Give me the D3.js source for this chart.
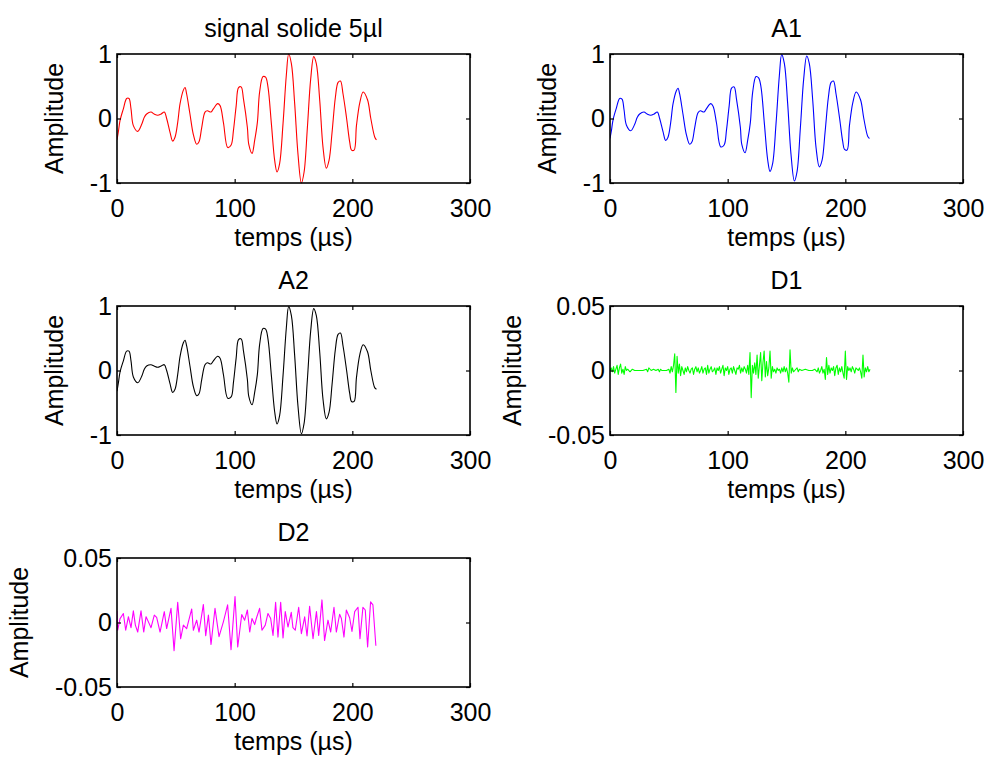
<!DOCTYPE html>
<html>
<head>
<meta charset="utf-8">
<script src="https://cdn.jsdelivr.net/npm/d3@7"></script>
<style>
  html, body { margin: 0; padding: 0; background: #fff; }
  svg { display: block; font-family: "Liberation Sans", Arial, sans-serif; }
</style>
</head>
<body>
<svg id="chart" width="987" height="758"></svg>
<script>
// ---- data -------------------------------------------------------------
const timeTicks = [0, 100, 200, 300];
const approxTicks = [-1, 0, 1];
const detailTicks = [-0.05, 0, 0.05];
const panelTitles = ["signal solide 5µl", "A1", "A2", "D1", "D2"];
const xLabel = "temps (µs)";
const yLabel = "Amplitude";

// time axis (µs) shared by the raw signal and its approximations
const signalTime = [
  0, 1.2, 2.6, 5.4, 8.2, 10.2, 11.9, 13.9, 17.6, 21,
  23.2, 25.2, 28.9, 31.5, 34.6, 37.5, 40.2, 42.2, 45, 47.3,
  49.3, 51.6, 53.6, 56.4, 57.8, 59.2, 62, 64.9, 67.7, 69.7,
  72, 74.8, 76.8, 79.9, 81.9, 85.6, 87.6, 90.5, 94.1, 97,
  99, 101.3, 103.3, 105.5, 107.5, 110.8, 112, 114.8, 117, 119.3,
  121.2, 124.1, 126.3, 128.3, 131.2, 134, 136, 138.2, 141.1, 143.9,
  145.9, 148.2, 151, 153.8, 156.7, 159, 161.8, 164.6, 167.2, 169.4,
  172.3, 175.1, 177.9, 180.2, 182.8, 185.6, 187.9, 189.9, 192.1, 195,
  197.8, 199.3, 201.5, 203.5, 206.4, 209.2, 212.9, 215.7, 219.1, 220.5
];

const signalValues = [
  -0.33, -0.20, -0.03, 0.15, 0.31, 0.31, 0.15, -0.11, -0.20, -0.09,
  0.02, 0.07, 0.10, 0.07, 0.05, 0.07, 0.10, 0.00, -0.21, -0.35,
  -0.29, -0.06, 0.23, 0.44, 0.48, 0.38, 0.07, -0.25, -0.40, -0.36,
  -0.14, 0.10, 0.12, 0.10, 0.15, 0.23, 0.20, -0.07, -0.45, -0.41,
  -0.18, 0.20, 0.48, 0.49, 0.30, -0.14, -0.40, -0.54, -0.34, -0.06,
  0.41, 0.65, 0.64, 0.49, -0.08, -0.65, -0.83, -0.70, -0.08, 0.67,
  1.00, 0.85, 0.23, -0.55, -1.00, -0.83, -0.14, 0.61, 0.96, 0.85,
  0.28, -0.45, -0.77, -0.65, -0.21, 0.33, 0.56, 0.58, 0.38, 0.02,
  -0.37, -0.49, -0.49, -0.11, 0.25, 0.41, 0.29, 0.00, -0.29, -0.33
];

const a1Values = [
  -0.31, -0.19, -0.02, 0.16, 0.31, 0.30, 0.14, -0.10, -0.19, -0.09,
  0.02, 0.07, 0.10, 0.07, 0.05, 0.07, 0.10, 0.00, -0.20, -0.34,
  -0.29, -0.06, 0.23, 0.43, 0.47, 0.38, 0.07, -0.25, -0.40, -0.36,
  -0.14, 0.09, 0.12, 0.10, 0.15, 0.23, 0.19, -0.07, -0.44, -0.41,
  -0.18, 0.20, 0.47, 0.49, 0.30, -0.14, -0.40, -0.53, -0.34, -0.06,
  0.40, 0.65, 0.63, 0.49, -0.08, -0.64, -0.82, -0.70, -0.08, 0.66,
  0.99, 0.85, 0.23, -0.55, -0.97, -0.82, -0.14, 0.61, 0.97, 0.85,
  0.28, -0.45, -0.75, -0.65, -0.21, 0.33, 0.56, 0.58, 0.38, 0.02,
  -0.36, -0.48, -0.49, -0.11, 0.25, 0.41, 0.29, 0.00, -0.28, -0.31
];

const a2Values = [
  -0.32, -0.19, -0.02, 0.15, 0.30, 0.30, 0.15, -0.10, -0.19, -0.09,
  0.02, 0.07, 0.09, 0.07, 0.05, 0.07, 0.09, 0.00, -0.20, -0.34,
  -0.29, -0.06, 0.22, 0.43, 0.47, 0.38, 0.07, -0.25, -0.39, -0.36,
  -0.14, 0.09, 0.12, 0.10, 0.15, 0.22, 0.19, -0.07, -0.43, -0.41,
  -0.18, 0.20, 0.48, 0.49, 0.30, -0.14, -0.40, -0.53, -0.34, -0.06,
  0.40, 0.65, 0.64, 0.49, -0.08, -0.64, -0.83, -0.70, -0.08, 0.66,
  0.99, 0.85, 0.23, -0.55, -0.98, -0.82, -0.14, 0.61, 0.96, 0.85,
  0.28, -0.45, -0.75, -0.65, -0.21, 0.33, 0.56, 0.58, 0.38, 0.02,
  -0.36, -0.48, -0.48, -0.11, 0.25, 0.40, 0.29, 0.00, -0.27, -0.29
];

// level-1 detail coefficients
const d1Time = [
  0, 1, 2, 3, 4, 5, 6, 7, 8, 9, 10, 11, 12, 13, 14, 15, 17, 19, 21, 25,
  28, 31, 32, 33, 35, 37, 39, 41, 42, 43, 44, 48, 50, 51, 52, 53, 54, 55, 56, 57,
  58, 59, 60, 61, 62, 63, 64, 65, 66, 67, 68, 69, 70, 71, 72, 73, 74, 75, 76, 77,
  78, 79, 80, 81, 82, 83, 84, 85, 86, 87, 88, 89, 90, 91, 92, 93, 94, 95, 96, 97,
  98, 99, 100, 101, 102, 103, 104, 105, 106, 107, 108, 109, 110, 111, 112, 113, 114, 115, 116, 117,
  118, 119, 120, 121, 122, 123, 124, 125, 126, 127, 128, 129, 130, 131, 132, 133, 134, 135, 136, 137,
  138, 139, 140, 141, 142, 143, 144, 145, 146, 147, 148, 149, 150, 151, 152, 153, 154, 155, 156, 157,
  159, 160, 161, 163, 166, 169, 172, 174, 176, 177, 178, 179, 180, 181, 182, 183, 184, 185, 186, 187,
  188, 189, 190, 191, 192, 193, 194, 195, 196, 197, 198, 199, 200, 201, 202, 203, 204, 205, 206, 207,
  208, 209, 210, 211, 212, 213, 214, 215, 216, 217, 218, 219, 220, 221
];
const d1Values = [
  0.000, 0.002, -0.001, 0.003, -0.002, 0.001, 0.004, -0.003, 0.002, 0.005, -0.002, 0.001, -0.003, 0.003, 0.000, 0.001, -0.001, 0.001, 0.000, 0.000,
  0.000, 0.001, -0.001, 0.002, 0.000, 0.001, 0.000, 0.001, -0.001, 0.001, 0.000, 0.000, 0.001, -0.002, 0.003, -0.001, 0.004, 0.013, -0.017, 0.011,
  -0.002, 0.005, -0.004, 0.003, 0.000, -0.003, 0.002, -0.001, 0.003, 0.000, -0.002, 0.001, 0.002, -0.003, 0.001, 0.003, -0.001, 0.002, -0.002, 0.000,
  0.003, -0.002, 0.001, 0.002, -0.003, 0.004, -0.002, 0.001, 0.003, -0.001, 0.000, 0.002, -0.003, 0.002, 0.000, 0.003, -0.002, 0.001, 0.004, -0.004,
  0.002, 0.000, 0.003, -0.003, 0.001, 0.002, -0.002, 0.003, 0.000, -0.003, 0.002, 0.001, 0.004, -0.002, 0.002, -0.001, 0.003, 0.001, -0.002, 0.004,
  -0.003, 0.014, -0.021, 0.004, -0.002, 0.006, -0.003, 0.012, -0.006, 0.004, 0.014, -0.008, 0.006, 0.015, -0.005, 0.007, -0.004, 0.002, 0.015, -0.006,
  0.003, -0.001, 0.001, -0.002, 0.002, 0.000, 0.001, -0.002, 0.002, -0.001, 0.003, -0.001, 0.002, -0.002, -0.009, 0.016, -0.002, 0.002, -0.001, 0.000,
  0.002, -0.001, 0.001, 0.000, 0.001, 0.000, 0.000, 0.001, -0.001, 0.002, -0.002, 0.000, 0.003, -0.002, 0.001, -0.007, 0.010, -0.003, 0.004, -0.002,
  0.002, 0.000, 0.003, -0.004, 0.002, 0.004, -0.003, 0.002, -0.001, 0.003, -0.002, -0.006, 0.015, -0.007, 0.003, 0.000, 0.002, -0.001, 0.003, 0.001,
  -0.002, 0.002, 0.001, 0.000, 0.002, -0.001, -0.006, 0.012, -0.005, 0.002, -0.001, 0.003, -0.001, 0.001
];

// level-2 detail coefficients
const d2Time = [
  0, 0.6, 2.6, 5.4, 7.4, 9.7, 11.9, 13.9, 15.6, 17.6,
  20.4, 22.7, 24.7, 26.7, 28.9, 31.7, 33.7, 36.6, 40.2, 42.2,
  45.9, 48.5, 51.6, 54.1, 56.4, 59.2, 63.5, 64.9, 67.7, 69.7,
  73.4, 75.4, 77.7, 79.9, 83.3, 86.7, 90.4, 94, 96.9, 100.3,
  102.6, 106, 108.5, 110.8, 112.8, 114.7, 117, 118.4, 121.2, 123.2,
  126, 128.3, 130.6, 132.6, 134.8, 136.8, 139.1, 141.1, 143, 145.3,
  148.1, 149.5, 151.5, 154.4, 156.7, 159.5, 161.5, 163.7, 166.6, 169.5,
  171.4, 174.2, 176.4, 179.3, 181.6, 184.4, 186.4, 189.2, 190.7, 192.9,
  194.9, 197.7, 199.7, 202, 204.8, 206.5, 209, 211, 213, 215.5,
  217.5, 220
];
const d2Values = [
  0.009, -0.006, 0.003, 0.007, -0.006, 0.0045, -0.004, 0.009, -0.002, -0.0074,
  0.009, -0.0074, 0.0045, 0.0005, -0.004, 0.0058, 0.004, -0.0074, 0.0084, -0.0047,
  0.011, -0.0218, 0.0157, -0.0126, -0.002, -0.0047, 0.0105, -0.006, 0.0018, -0.0074,
  0.014, -0.0102, 0.0057, -0.017, 0.011, -0.011, 0.0005, 0.0137, -0.021, 0.0202,
  -0.019, 0.0061, 0.0018, 0.0097, -0.0074, 0.0031, -0.0016, 0.0031, 0.011, -0.006,
  -0.002, 0.007, 0.0031, -0.01, 0.0157, -0.0113, 0.0157, -0.012, 0.0084, -0.0035,
  0.0079, -0.004, -0.006, 0.0118, -0.0087, 0.0044, -0.0105, 0.0126, -0.0126, 0.0084,
  -0.01, 0.0175, -0.014, 0.0018, -0.0074, 0.0118, -0.0074, 0.0064, 0.0031, -0.0113,
  0.0097, 0.0037, -0.007, 0.0084, 0.0118, -0.0126, 0.0118, 0.0097, -0.019, 0.016,
  0.0136, -0.018
];

// ---- layout -----------------------------------------------------------
const svg = d3.select("#chart");
svg.append("rect").attr("width", 987).attr("height", 758).attr("fill", "#fff");

const FONT = 25;
const axW = 353, axH = 129;
const colX = [117, 610];
const rowY = [54, 306, 558];

const panels = [
  { title: panelTitles[0], t: signalTime, v: signalValues, ticks: approxTicks, color: "#ff0000", smooth: true,  col: 0, row: 0, ylabOff: 54 },
  { title: panelTitles[1], t: signalTime, v: a1Values,     ticks: approxTicks, color: "#0000ff", smooth: true,  col: 1, row: 0, ylabOff: 54 },
  { title: panelTitles[2], t: signalTime, v: a2Values,     ticks: approxTicks, color: "#000000", smooth: true,  col: 0, row: 1, ylabOff: 54 },
  { title: panelTitles[3], t: d1Time,     v: d1Values,     ticks: detailTicks, color: "#00ff00", smooth: false, col: 1, row: 1, ylabOff: 89 },
  { title: panelTitles[4], t: d2Time,     v: d2Values,     ticks: detailTicks, color: "#ff00ff", smooth: false, col: 0, row: 2, ylabOff: 89 }
];

const fmt = d => String(d);

panels.forEach((p, i) => {
  const left = colX[p.col], top = rowY[p.row];
  const g = svg.append("g").attr("transform", `translate(${left},${top})`);

  const x = d3.scaleLinear().domain([0, 300]).range([0, axW]);
  const yMax = p.ticks[p.ticks.length - 1];
  const y = d3.scaleLinear().domain([-yMax, yMax]).range([axH, 0]);

  // clip region for the trace
  const clipId = `clip${i}`;
  g.append("clipPath").attr("id", clipId)
    .append("rect").attr("x", 0).attr("y", -1).attr("width", axW).attr("height", axH + 2);

  const pts = p.t.map((t, k) => [t, p.v[k]]);
  const line = d3.line()
    .x(d => x(d[0]))
    .y(d => y(d[1]))
    .curve(p.smooth ? d3.curveCatmullRom.alpha(0.5) : d3.curveLinear);

  g.append("path")
    .attr("clip-path", `url(#${clipId})`)
    .attr("d", line(pts))
    .attr("fill", "none")
    .attr("stroke", p.color)
    .attr("stroke-width", 1.1)
    .attr("stroke-linejoin", "round");

  // axes: inward ticks on all four sides
  const styleAxis = sel => {
    sel.select(".domain").remove();
    sel.selectAll(".tick line").attr("stroke", "#000").attr("stroke-width", 1.2);
    sel.selectAll(".tick text")
      .attr("fill", "#000")
      .style("font-size", FONT + "px")
      .style("font-family", '"Liberation Sans", Arial, sans-serif');
  };

  g.append("g").attr("transform", `translate(0,${axH})`)
    .call(d3.axisBottom(x).tickValues(timeTicks).tickFormat(fmt).tickSize(-4).tickPadding(16))
    .call(styleAxis);
  g.append("g")
    .call(d3.axisTop(x).tickValues(timeTicks).tickFormat("").tickSize(-4))
    .call(styleAxis);
  g.append("g")
    .call(d3.axisLeft(y).tickValues(p.ticks).tickFormat(fmt).tickSize(-4).tickPadding(5))
    .call(styleAxis);
  g.append("g").attr("transform", `translate(${axW},0)`)
    .call(d3.axisRight(y).tickValues(p.ticks).tickFormat("").tickSize(-4))
    .call(styleAxis);

  // frame
  g.append("rect")
    .attr("x", 0).attr("y", 0).attr("width", axW).attr("height", axH)
    .attr("fill", "none").attr("stroke", "#000").attr("stroke-width", 1.6);

  // title
  g.append("text")
    .attr("x", axW / 2).attr("y", -17)
    .attr("text-anchor", "middle")
    .style("font-size", FONT + "px")
    .text(p.title);

  // x label
  g.append("text")
    .attr("x", axW / 2).attr("y", axH + 63)
    .attr("text-anchor", "middle")
    .style("font-size", FONT + "px")
    .text(xLabel);

  // y label
  g.append("text")
    .attr("transform", `translate(${-p.ylabOff},${axH / 2}) rotate(-90)`)
    .attr("text-anchor", "middle")
    .style("font-size", FONT + "px")
    .text(yLabel);
});
</script>
</body>
</html>
